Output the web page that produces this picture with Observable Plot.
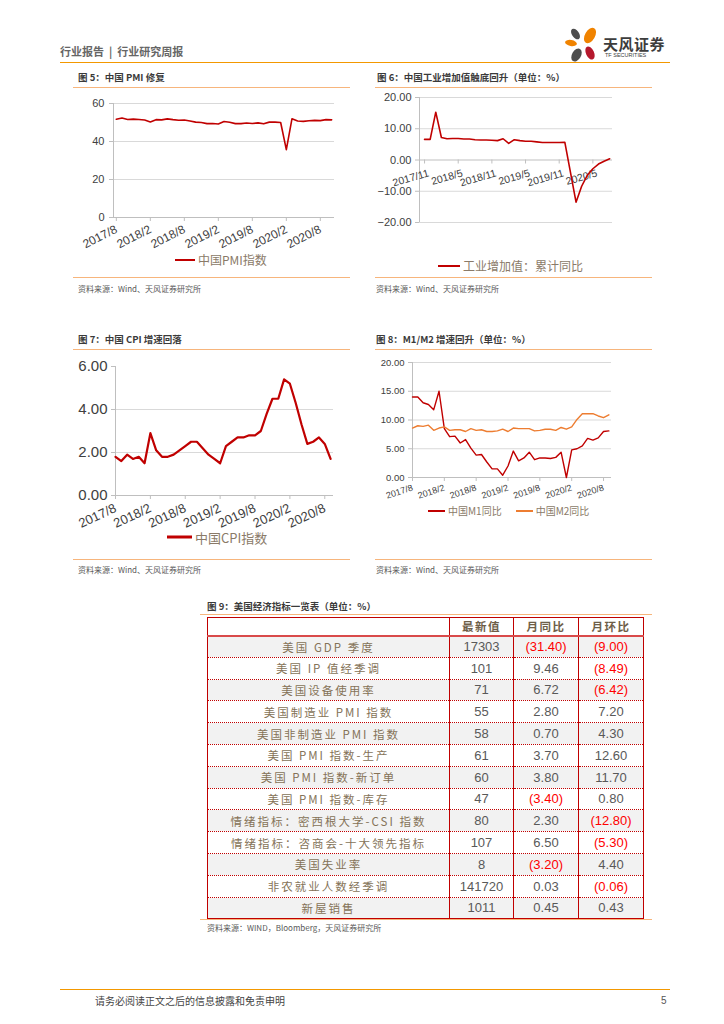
<!DOCTYPE html>
<html><head><meta charset="utf-8">
<script src="https://cdn.jsdelivr.net/npm/d3@7"></script>
<script src="https://cdn.jsdelivr.net/npm/@observablehq/plot@0.6"></script>
<style>
body{margin:0;background:#fff;}
#page{position:relative;width:724px;height:1024px;overflow:hidden;font-family:"Noto Sans CJK SC","Noto Sans",sans-serif;background:#fff;}
.t{position:absolute;white-space:nowrap;transform:translateY(-50%);line-height:1;}
.title{font-size:9.5px;font-weight:bold;color:#3a3a3a;}
.src{font-size:8px;color:#595959;}
.lg{font-size:12px;color:#8a7a68;display:flex;align-items:center;}
.sw{display:inline-block;margin-right:3px;}
.hr{position:absolute;height:0;}
.chart{position:absolute;}
table.tb{position:absolute;border-collapse:collapse;table-layout:fixed;}
table.tb td{padding:0;text-align:center;border-left:1.2px solid #c00000;border-right:1.2px solid #c00000;border-bottom:1px dotted #c00000;overflow:hidden;white-space:nowrap;}
</style></head><body><div id="page"></div>
<script>
// ---------- data ----------
const pmiMonths = ["2017/8","2017/9","2017/10","2017/11","2017/12","2018/1","2018/2","2018/3","2018/4","2018/5","2018/6","2018/7","2018/8","2018/9","2018/10","2018/11","2018/12","2019/1","2019/2","2019/3","2019/4","2019/5","2019/6","2019/7","2019/8","2019/9","2019/10","2019/11","2019/12","2020/1","2020/2","2020/3","2020/4","2020/5","2020/6","2020/7","2020/8","2020/9","2020/10"];
const pmiValues = [51.7,52.4,51.6,51.8,51.6,51.3,50.3,51.5,51.4,51.9,51.5,51.2,51.3,50.8,50.2,50.0,49.4,49.5,49.2,50.5,50.1,49.4,49.4,49.7,49.5,49.8,49.3,50.2,50.2,50.0,35.7,52.0,50.8,50.6,50.9,51.1,51.0,51.5,51.4];
const pmiTickLabels = ["2017/8","2018/2","2018/8","2019/2","2019/8","2020/2","2020/8"];

const iavMonths = ["2017/11","2017/12","2018/1","2018/2","2018/3","2018/4","2018/5","2018/6","2018/7","2018/8","2018/9","2018/10","2018/11","2018/12","2019/1","2019/2","2019/3","2019/4","2019/5","2019/6","2019/7","2019/8","2019/9","2019/10","2019/11","2019/12","2020/1","2020/2","2020/3","2020/4","2020/5","2020/6","2020/7","2020/8"];
const iavValues = [6.6,6.6,15.3,7.2,6.8,6.9,6.9,6.7,6.7,6.5,6.4,6.4,6.3,6.2,6.8,5.3,6.5,6.2,6.0,6.0,5.8,5.6,5.6,5.6,5.6,5.7,null,-13.5,-8.4,-4.9,-2.8,-1.3,-0.4,0.4];
const iavTickLabels = ["2017/11","2018/5","2018/11","2019/5","2019/11","2020/5"];

const cpiMonths = pmiMonths.slice(0, 38);
const cpiValues = [1.8,1.6,1.9,1.7,1.8,1.5,2.9,2.1,1.8,1.8,1.9,2.1,2.3,2.5,2.5,2.2,1.9,1.7,1.5,2.3,2.5,2.7,2.7,2.8,2.8,3.0,3.8,4.5,4.5,5.4,5.2,4.3,3.3,2.4,2.5,2.7,2.4,1.7];
const cpiTickLabels = ["2017/8","2018/2","2018/8","2019/2","2019/8","2020/2","2020/8"];

const mMonths = pmiMonths.slice(0, 38);
const m1Values = [14.0,14.0,13.0,12.7,11.8,15.0,8.5,7.1,7.2,6.0,6.6,5.1,3.9,4.0,2.7,1.5,1.5,0.4,2.0,4.6,2.9,3.4,4.4,3.1,3.4,3.4,3.3,3.5,4.4,0.0,4.8,5.0,5.5,6.8,6.5,6.9,8.0,8.1];
const m2Values = [8.6,9.0,8.9,9.1,8.2,8.6,8.8,8.2,8.3,8.3,8.0,8.5,8.2,8.3,8.0,8.0,8.1,8.4,8.0,8.6,8.5,8.5,8.5,8.1,8.2,8.4,8.4,8.2,8.7,8.4,8.8,10.1,11.1,11.1,11.1,10.7,10.4,10.9];
const mTickLabels = ["2017/8","2018/2","2018/8","2019/2","2019/8","2020/2","2020/8"];

const usLabels = ["美国 GDP 季度","美国 IP 值经季调","美国设备使用率","美国制造业 PMI 指数","美国非制造业 PMI 指数","美国 PMI 指数-生产","美国 PMI 指数-新订单","美国 PMI 指数-库存","情绪指标：密西根大学-CSI 指数","情绪指标：咨商会-十大领先指标","美国失业率","非农就业人数经季调","新屋销售"];
const usLatest = [17303,101,71,55,58,61,60,47,80,107,8,141720,1011];
const usYoY = [-31.40,9.46,6.72,2.80,0.70,3.70,3.80,-3.40,2.30,6.50,-3.20,0.03,0.45];
const usMoM = [-9.00,-8.49,-6.42,7.20,4.30,12.60,11.70,0.80,-12.80,-5.30,4.40,-0.06,0.43];
const usHeaders = ["","最新值","月同比","月环比"];

// ---------- helpers ----------
const page = document.getElementById("page");
function txt(html, x, y, cls, style = "") {
  const d = document.createElement("div");
  d.className = "t " + cls; d.style.left = x + "px"; d.style.top = y + "px";
  d.style.cssText += style; d.innerHTML = html; page.appendChild(d); return d;
}
function hr(x1, x2, y, color, w) {
  const d = document.createElement("div");
  d.className = "hr";
  d.style.cssText = `left:${x1}px;width:${x2 - x1}px;top:${y - w / 2}px;border-top:${w}px solid ${color};`;
  page.appendChild(d);
}
function legend(items, x, y, fs, sw, lw) {
  const d = txt("", x, y, "lg", `font-size:${fs}px;`);
  d.innerHTML = items.map(([c, l], k) =>
    `<span class="sw" style="width:${sw}px;height:${lw}px;background:${c};${k ? "margin-left:14px;" : ""}"></span><span>${l}</span>`).join("");
}
function place(svg, x, y) {
  svg.classList.add("chart"); svg.style.left = x + "px"; svg.style.top = y + "px"; page.appendChild(svg);
}
const idx = (months, labels) => labels.map(l => months.indexOf(l));
const AX = "#bfbfbf", GRID = "#d9d9d9", TXT = "#404040", RED = "#c00000", ORG = "#ed7d31";
const LIGHT = "#f7b57c";
const font = "'Liberation Sans', Arial, sans-serif";

// ---------- header / footer ----------
txt("行业报告&nbsp;&nbsp;|&nbsp;&nbsp;行业研究周报", 60, 51, "", "font-size:11px;font-weight:bold;color:#666;");
hr(60, 670, 63, "#f39800", 1.6);
hr(60, 670, 990, "#f39800", 1.6);
txt("请务必阅读正文之后的信息披露和免责申明", 95, 1001, "", "font-size:10px;color:#444;");
txt("5", 661, 1001, "", `font-size:10px;color:#555;font-family:${font};`);
// logo
(function () {
  const petals = [[575, 34, 7, 12, -35, "#4d4d4d"], [590, 35, 10, 17, 30, "#f08300"], [571, 43, 12, 6, 10, "#f08300"], [576, 55, 9, 14, 30, "#4d4d4d"], [590, 53, 8, 14, -25, "#b5182d"]];
  petals.forEach(([cx, cy, w, h, r, c]) => {
    const d = document.createElement("div");
    d.style.cssText = `position:absolute;left:${cx - w / 2}px;top:${cy - h / 2}px;width:${w}px;height:${h}px;border-radius:50%;background:${c};transform:rotate(${r}deg);`;
    page.appendChild(d);
  });
  txt("天风证券", 603, 43, "", "font-size:15px;font-weight:bold;color:#3d3d3d;letter-spacing:0.5px;");
  txt("TF SECURITIES", 605, 56, "", `font-size:5.5px;color:#3d3d3d;font-family:${font};`);
})();

// ---------- chart 5: PMI ----------
txt("图 5：中国 PMI 修复", 78, 78, "title");
hr(73, 350, 88, LIGHT, 1.6);
{
  const data = pmiValues.map((v, i) => ({i, v}));
  const svg = Plot.plot({
    width: 290, height: 160, marginLeft: 53, marginRight: 16, marginTop: 11, marginBottom: 35,
    style: {fontFamily: font, fontSize: "11px", color: TXT, background: "transparent", overflow: "visible"},
    x: {type: "linear", domain: [-0.5, pmiMonths.length - 0.5]},
    y: {domain: [0, 60]},
    marks: [
      Plot.gridY([20, 40, 60], {stroke: GRID, strokeOpacity: 1}),
      Plot.ruleY([0], {stroke: AX}),
      Plot.ruleX([-0.5], {stroke: AX}),
      Plot.axisY({ticks: [0, 20, 40, 60], tickSize: 4, tickPadding: 5, stroke: AX, fill: TXT, label: null}),
      Plot.axisX({ticks: idx(pmiMonths, pmiTickLabels), tickFormat: i => pmiMonths[i], tickRotate: -27, tickSize: 4, tickPadding: 7, stroke: AX, fill: TXT, fontSize: 12, label: null}),
      Plot.line(data, {x: "i", y: "v", stroke: RED, strokeWidth: 1.6})
    ]
  });
  place(svg, 60, 92);
}
legend([[RED, "中国PMI指数"]], 175, 260, 12, 20, 2);
hr(73, 350, 278, LIGHT, 1.6);
txt("资料来源：Wind、天风证券研究所", 78, 289, "src");

// ---------- chart 6: industrial value added ----------
txt("图 6：中国工业增加值触底回升（单位：%）", 377, 78, "title");
hr(375, 652, 88, LIGHT, 1.6);
{
  const data = iavValues.map((v, i) => ({i, v})).filter(d => d.v != null);
  const ticks = idx(iavMonths, iavTickLabels);
  const svg = Plot.plot({
    width: 292, height: 140, marginLeft: 59, marginRight: 40, marginTop: 7, marginBottom: 8,
    style: {fontFamily: font, fontSize: "11px", color: TXT, background: "transparent", overflow: "visible"},
    x: {type: "linear", domain: [-0.9, iavMonths.length - 0.5], axis: null},
    y: {domain: [-20, 20]},
    marks: [
      Plot.gridY([-20, -10, 10, 20], {stroke: GRID, strokeOpacity: 1}),
      Plot.ruleY([0], {stroke: AX}),
      Plot.ruleX([-0.9], {stroke: AX}),
      Plot.ruleX(ticks, {x: d => d, y1: 0, y2: 0, insetBottom: -4, stroke: AX}),
      Plot.axisY({ticks: [-20, -10, 0, 10, 20], tickFormat: d3.format(".2f"), tickSize: 4, tickPadding: 4, stroke: AX, fill: TXT, label: null}),
      Plot.text(ticks, {x: d => d, y: 0, text: d => iavMonths[d], rotate: -16, textAnchor: "end", lineAnchor: "top", dy: 9, dx: 3, fill: TXT, fontSize: 10.5}),
      Plot.line(data, {x: "i", y: "v", stroke: RED, strokeWidth: 1.6})
    ]
  });
  place(svg, 360, 90);
}
legend([[RED, "工业增加值：累计同比"]], 438, 266, 12, 22, 2);
hr(375, 652, 278, LIGHT, 1.6);
txt("资料来源：Wind、天风证券研究所", 376, 289, "src");

// ---------- chart 7: CPI ----------
txt("图 7：中国 CPI 增速回落", 78, 340, "title");
hr(73, 350, 350, LIGHT, 1.6);
{
  const data = cpiValues.map((v, i) => ({i, v}));
  const svg = Plot.plot({
    width: 290, height: 180, marginLeft: 55, marginRight: 17, marginTop: 11, marginBottom: 40,
    style: {fontFamily: font, fontSize: "15px", color: TXT, background: "transparent", overflow: "visible"},
    x: {type: "linear", domain: [0, cpiMonths.length - 0.5]},
    y: {domain: [0, 6]},
    marks: [
      Plot.gridY([2, 4], {stroke: GRID, strokeOpacity: 1}),
      Plot.ruleY([0], {stroke: AX}),
      Plot.ruleX([0], {stroke: AX}),
      Plot.axisY({ticks: [0, 2, 4, 6], tickFormat: d3.format(".2f"), tickSize: 4, tickPadding: 4, stroke: AX, fill: TXT, label: null}),
      Plot.axisX({ticks: idx(cpiMonths, cpiTickLabels), tickFormat: i => cpiMonths[i], tickRotate: -25, tickSize: 4, tickPadding: 8, stroke: AX, fill: TXT, fontSize: 13, label: null}),
      Plot.line(data, {x: "i", y: "v", stroke: RED, strokeWidth: 2.2})
    ]
  });
  place(svg, 60, 355);
}
legend([[RED, "中国CPI指数"]], 167, 537, 13, 25, 2.5);
hr(73, 350, 560, LIGHT, 1.6);
txt("资料来源：Wind、天风证券研究所", 78, 570, "src");

// ---------- chart 8: M1/M2 ----------
txt("图 8：M1/M2 增速回升（单位：%）", 376, 340, "title");
hr(375, 652, 350, LIGHT, 1.6);
{
  const data = [
    ...m1Values.map((v, i) => ({i, v, s: "M1"})),
    ...m2Values.map((v, i) => ({i, v, s: "M2"}))
  ];
  const svg = Plot.plot({
    width: 292, height: 150, marginLeft: 52, marginRight: 41, marginTop: 7, marginBottom: 28,
    style: {fontFamily: font, fontSize: "9.5px", color: TXT, background: "transparent", overflow: "visible"},
    x: {type: "linear", domain: [0, mMonths.length - 0.5]},
    y: {domain: [0, 20]},
    color: {domain: ["M1", "M2"], range: [RED, ORG]},
    marks: [
      Plot.gridY([5, 10, 15, 20], {stroke: GRID, strokeOpacity: 1}),
      Plot.ruleY([0], {stroke: AX}),
      Plot.ruleX([0], {stroke: AX}),
      Plot.axisY({ticks: [0, 5, 10, 15, 20], tickFormat: d3.format(".2f"), tickSize: 4, tickPadding: 4, stroke: AX, fill: TXT, label: null}),
      Plot.axisX({ticks: idx(mMonths, mTickLabels), tickFormat: i => mMonths[i], tickRotate: -18, tickSize: 4, tickPadding: 6, stroke: AX, fill: TXT, fontSize: 9, label: null}),
      Plot.line(data, {x: "i", y: "v", z: "s", stroke: "s", strokeWidth: 1.4})
    ]
  });
  place(svg, 360, 355);
}
legend([[RED, "中国M1同比"], [ORG, "中国M2同比"]], 428, 511, 10, 17, 2);
hr(375, 652, 560, LIGHT, 1.6);
txt("资料来源：Wind、天风证券研究所", 376, 570, "src");

// ---------- table 9 ----------
txt("图 9：美国经济指标一览表（单位：%）", 207, 607, "title");
hr(200, 652, 615, LIGHT, 1.6);
{
  const colW = [242, 64, 65, 65];
  const tb = document.createElement("table");
  tb.className = "tb";
  tb.style.cssText = `left:207px;top:617px;width:${d3.sum(colW)}px;border-top:1.2px solid #c00000;border-bottom:2px solid #c00000;`;
  const cg = document.createElement("colgroup");
  colW.forEach(w => { const c = document.createElement("col"); c.style.width = w + "px"; cg.appendChild(c); });
  tb.appendChild(cg);
  const numCell = (v, isInt) => {
    if (isInt) return `<span>${v}</span>`;
    const s = d3.format(".2f")(Math.abs(v));
    return v < 0 ? `<span style="color:#ff0000">(${s})</span>` : `<span>${s}</span>`;
  };
  const hrow = document.createElement("tr");
  hrow.style.height = "18px";
  hrow.innerHTML = usHeaders.map(h => `<td style="border-bottom:2.5px solid #d94a4a;font-size:11.5px;font-weight:bold;color:#6e5e48;letter-spacing:1.5px;">${h}</td>`).join("");
  tb.appendChild(hrow);
  usLabels.forEach((lab, r) => {
    const tr = document.createElement("tr");
    tr.style.height = "21.8px";
    tr.style.background = r % 2 === 0 ? "#f2f2f2" : "#ffffff";
    const numStyle = `font-family:${font};font-size:13px;color:#595959;`;
    tr.innerHTML =
      `<td style="font-size:11.5px;color:#857358;letter-spacing:2px;">${lab}</td>` +
      `<td style="${numStyle}">${numCell(usLatest[r], true)}</td>` +
      `<td style="${numStyle}">${numCell(usYoY[r])}</td>` +
      `<td style="${numStyle}">${numCell(usMoM[r])}</td>`;
    tb.appendChild(tr);
  });
  page.appendChild(tb);
}
hr(200, 652, 920, LIGHT, 1.6);
txt("资料来源：WIND，Bloomberg，天风证券研究所", 207, 928, "src");
</script></body></html>
